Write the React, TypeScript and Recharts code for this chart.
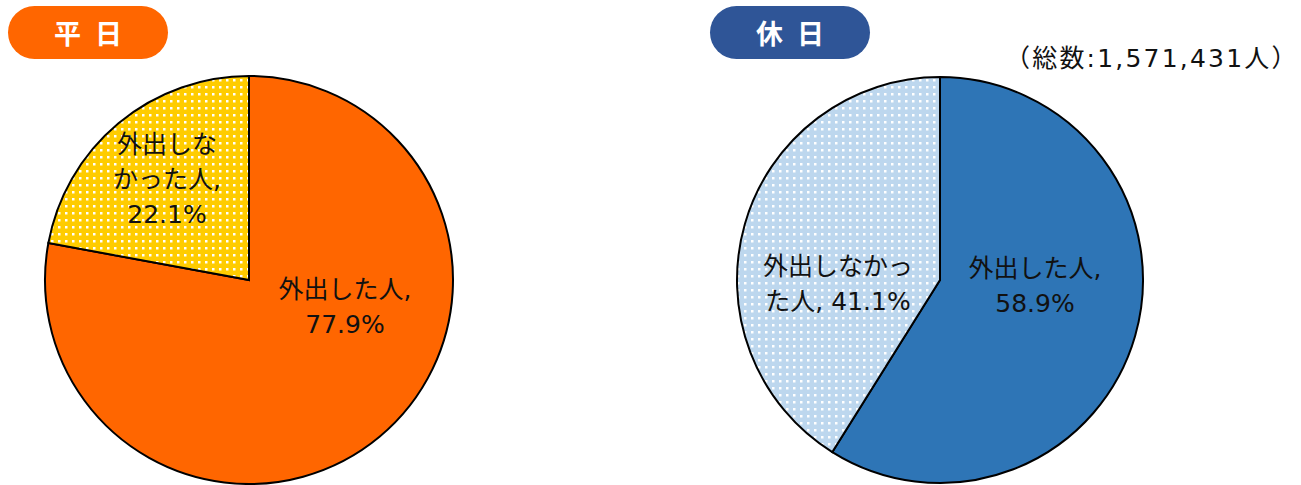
import React from 'react';
import { PieChart, Pie, Cell } from 'recharts';

const categories = ['外出した人', '外出しなかった人'];
const weekdayValues = [77.9, 22.1];
const holidayValues = [58.9, 41.1];
const totalLabel = '（総数:1,571,431人）';

const weekdayData = categories.map((name, i) => ({ name, value: weekdayValues[i] }));
const holidayData = categories.map((name, i) => ({ name, value: holidayValues[i] }));

const FONT = '"DejaVu Sans", "Noto Sans CJK JP", sans-serif';
const BADGE_FONT = '"Noto Sans CJK JP", sans-serif';

// label layout: offsets from pie centre, and line breaks
const weekdayLabelLayout = [
  { dx: 96, dy: 18, lines: (n: string, v: number) => [n + ',', v.toFixed(1) + '%'] },
  { dx: -82, dy: -127, lines: (n: string, v: number) => ['外出しな', 'かった人,', v.toFixed(1) + '%'] },
];
const holidayLabelLayout = [
  { dx: 95, dy: -3, lines: (n: string, v: number) => [n + ',', v.toFixed(1) + '%'] },
  { dx: -102, dy: -5, lines: (n: string, v: number) => ['外出しなかっ', 'た人, ' + v.toFixed(1) + '%'] },
];

const makeLabel = (layout: any[]) => (props: any) => {
  const { cx, cy, index, name, value } = props;
  const l = layout[index];
  const lines: string[] = l.lines(name, value);
  return (
    <text
      key={'lbl' + index}
      x={cx + l.dx}
      y={cy + l.dy}
      textAnchor="middle"
      fill="#111"
      fontSize={25}
      fontFamily={FONT}
    >
      {lines.map((t, i) => (
        <tspan key={i} x={cx + l.dx} dy={i === 0 ? 0 : 35}>
          {t}
        </tspan>
      ))}
    </text>
  );
};

const badge = (left: number, color: string, text: string) => (
  <div
    style={{
      position: 'absolute',
      left,
      top: 6,
      width: 160,
      height: 53,
      borderRadius: 27,
      background: color,
      color: '#fff',
      fontFamily: BADGE_FONT,
      fontWeight: 700,
      fontSize: 27,
      lineHeight: '53px',
      textAlign: 'center',
      letterSpacing: 14,
      textIndent: 14,
    }}
  >
    {text}
  </div>
);

export default function App() {
  return (
    <div style={{ position: 'absolute', left: 0, top: 0, width: 1301, height: 485, background: '#fff' }}>
      <PieChart
        width={1301}
        height={485}
        margin={{ top: 0, right: 0, bottom: 0, left: 0 }}
        style={{ position: 'absolute', left: 0, top: 0 }}
      >
        <defs>
          <pattern id="dotYellow" width="7" height="7" patternUnits="userSpaceOnUse">
            <rect width="7" height="7" fill="#FFCC00" />
            <rect x="2" y="2" width="2.5" height="2.5" fill="#FFFFFF" />
          </pattern>
          <pattern id="dotBlue" width="7" height="7" patternUnits="userSpaceOnUse">
            <rect width="7" height="7" fill="#BDD7EE" />
            <rect x="2" y="2" width="2.5" height="2.5" fill="#FFFFFF" />
          </pattern>
        </defs>
        <Pie
          data={weekdayData}
          dataKey="value"
          nameKey="name"
          cx={249}
          cy={280}
          outerRadius={204}
          startAngle={90}
          endAngle={-270}
          stroke="#000"
          strokeWidth={2}
          isAnimationActive={false}
          labelLine={false}
          label={makeLabel(weekdayLabelLayout)}
        >
          <Cell fill="#FF6600" />
          <Cell fill="url(#dotYellow)" />
        </Pie>
        <Pie
          data={holidayData}
          dataKey="value"
          nameKey="name"
          cx={940}
          cy={280}
          outerRadius={203}
          startAngle={90}
          endAngle={-270}
          stroke="#000"
          strokeWidth={2}
          isAnimationActive={false}
          labelLine={false}
          label={makeLabel(holidayLabelLayout)}
        >
          <Cell fill="#2E75B6" />
          <Cell fill="url(#dotBlue)" />
        </Pie>
      </PieChart>
      {badge(8, '#FF6600', '平日')}
      {badge(710, '#2F5597', '休日')}
      <div
        style={{
          position: 'absolute',
          left: 1005,
          top: 38,
          fontFamily: FONT,
          fontSize: 25,
          letterSpacing: 2.2,
          color: '#111',
          whiteSpace: 'nowrap',
        }}
      >
        {totalLabel}
      </div>
    </div>
  );
}
